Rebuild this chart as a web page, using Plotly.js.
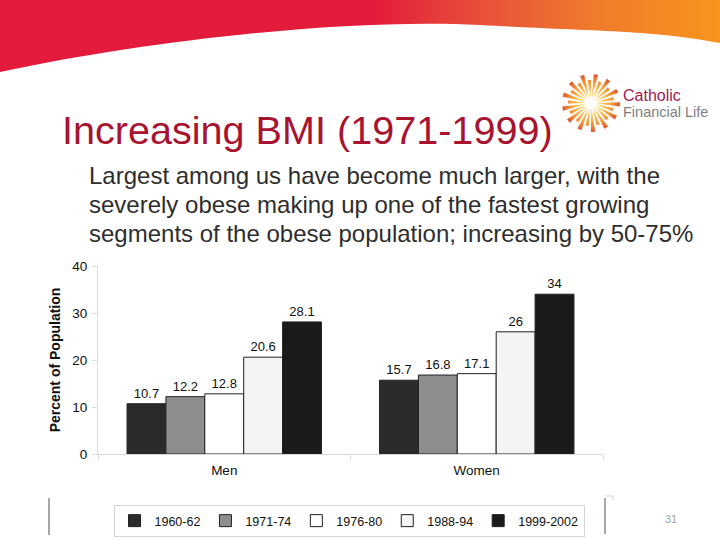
<!DOCTYPE html>
<html>
<head>
<meta charset="utf-8">
<script src="https://cdn.plot.ly/plotly-3.0.1.min.js"></script>
<style>
  html, body { margin: 0; padding: 0; background: #ffffff; }
  #chart { width: 720px; height: 540px; }
</style>
</head>
<body>
<div id="chart"></div>
<script>
// ---- data ----
var categories = ['Men', 'Women'];
var seriesNames = ['1960-62', '1971-74', '1976-80', '1988-94', '1999-2002'];
var values1960 = [10.7, 15.7];
var values1971 = [12.2, 16.8];
var values1976 = [12.8, 17.1];
var values1988 = [20.6, 26];
var values1999 = [28.1, 34];
var yTickValues = [0, 10, 20, 30, 40];

var titleText = 'Increasing BMI (1971-1999)';
var subtitleLines = [
  'Largest among us have become much larger, with the',
  'severely obese making up one of the fastest growing',
  'segments of the obese population; increasing by 50-75%'
];

// ---- styles ----
var FONT = 'Arial, "Liberation Sans", sans-serif';
var seriesFill = ['#2b2b2b', '#8e8e8e', '#ffffff', '#f4f4f4', '#1a1a1a'];
var allValues = [values1960, values1971, values1976, values1988, values1999];

// plot area in pixels (for placing decorations in paper coordinates)
var L = 98, R = 603, T = 266, B = 454;
function px(x) { return (x - L) / (R - L); }
function py(y) { return (B - y) / (B - T); }

var traces = seriesNames.map(function (name, i) {
  return {
    type: 'bar',
    name: name,
    x: categories,
    y: allValues[i],
    text: allValues[i].map(String),
    textposition: 'outside',
    texttemplate: '%{text}',
    textfont: { family: FONT, size: 13, color: '#111111' },
    constraintext: 'none',
    cliponaxis: false,
    marker: { color: seriesFill[i], line: { color: '#222222', width: 1 } },
    hoverinfo: 'skip'
  };
});

// header band SVG (decoration)
var headerSvg =
  '<svg xmlns="http://www.w3.org/2000/svg" width="720" height="75" viewBox="0 0 720 75" preserveAspectRatio="none">' +
  '<defs><linearGradient id="g" x1="0" y1="0" x2="1" y2="0">' +
  '<stop offset="0" stop-color="#e31a3c"/>' +
  '<stop offset="0.52" stop-color="#e31c3b"/>' +
  '<stop offset="0.67" stop-color="#e8503a"/>' +
  '<stop offset="0.82" stop-color="#ef7a2c"/>' +
  '<stop offset="1" stop-color="#f7951d"/>' +
  '</linearGradient></defs>' +
  '<path d="M0,0 H720 V43 C650,30 610,32 480,25 C350,18 150,40 0,72 Z" fill="url(#g)"/>' +
  '</svg>';

// sunburst logo SVG (decoration)
function sunSvg() {
  var s = '<svg xmlns="http://www.w3.org/2000/svg" width="60" height="60" viewBox="0 0 60 60">' +
    '<defs><radialGradient id="r" cx="30" cy="30" r="30" gradientUnits="userSpaceOnUse">' +
    '<stop offset="0" stop-color="#fff6d2"/>' +
    '<stop offset="0.35" stop-color="#fbd066"/>' +
    '<stop offset="0.7" stop-color="#f29a3a"/>' +
    '<stop offset="1" stop-color="#dd4a2a"/>' +
    '</radialGradient></defs><g fill="url(#r)">';
  var n = 26;
  for (var k = 0; k < n; k++) {
    var a = (k / n) * 2 * Math.PI + 0.05;
    var r0 = 6, r1 = (k % 2 === 0) ? 29 : 23;
    var h0 = 0.03, h1 = 0.075;
    var pts = [
      [30 + r0 * Math.cos(a - h0), 30 + r0 * Math.sin(a - h0)],
      [30 + r1 * Math.cos(a - h1), 30 + r1 * Math.sin(a - h1)],
      [30 + r1 * Math.cos(a + h1), 30 + r1 * Math.sin(a + h1)],
      [30 + r0 * Math.cos(a + h0), 30 + r0 * Math.sin(a + h0)]
    ];
    s += '<polygon points="' + pts.map(function (p) { return p[0].toFixed(2) + ',' + p[1].toFixed(2); }).join(' ') + '"/>';
  }
  s += '</g></svg>';
  return s;
}
function svgUri(s) { return 'data:image/svg+xml;charset=utf-8,' + encodeURIComponent(s); }

var annotations = [
  {
    text: titleText, xref: 'paper', yref: 'paper', x: px(60), y: py(130),
    xanchor: 'left', yanchor: 'middle', showarrow: false,
    font: { family: FONT, size: 39.6, color: '#a8132f' }
  },
  {
    text: 'Catholic', xref: 'paper', yref: 'paper', x: px(621), y: py(95),
    xanchor: 'left', yanchor: 'middle', showarrow: false,
    font: { family: FONT, size: 16, color: '#a3194f' }
  },
  {
    text: 'Financial Life', xref: 'paper', yref: 'paper', x: px(621), y: py(112),
    xanchor: 'left', yanchor: 'middle', showarrow: false,
    font: { family: FONT, size: 14.5, color: '#7f7f7f' }
  },
  {
    text: '31', xref: 'paper', yref: 'paper', x: px(671), y: py(519),
    xanchor: 'center', yanchor: 'middle', showarrow: false,
    font: { family: FONT, size: 11, color: '#a0a0a0' }
  }
];
var subY = [175, 204, 233];
subtitleLines.forEach(function (line, i) {
  annotations.push({
    text: line, xref: 'paper', yref: 'paper', x: px(87), y: py(subY[i]),
    xanchor: 'left', yanchor: 'middle', showarrow: false,
    font: { family: FONT, size: 24, color: '#2e2e2e' }
  });
});

var shapes = [
  { type: 'line', xref: 'paper', yref: 'paper', x0: px(49), x1: px(49), y0: py(498), y1: py(535),
    line: { color: '#a8a8a8', width: 2 } },
  { type: 'line', xref: 'paper', yref: 'paper', x0: px(605), x1: px(605), y0: py(498), y1: py(534),
    line: { color: '#a8a8a8', width: 2 } },
  { type: 'line', xref: 'paper', yref: 'paper', x0: px(605), x1: px(613), y0: py(496), y1: py(496),
    line: { color: '#d0d0d0', width: 1 } },
  { type: 'line', xref: 'paper', yref: 'paper', x0: px(613), x1: px(613), y0: py(496), y1: py(500),
    line: { color: '#d0d0d0', width: 1 } }
];

var layout = {
  width: 720,
  height: 540,
  margin: { l: L, r: 720 - R, t: T, b: 540 - B, pad: 0, autoexpand: false },
  paper_bgcolor: '#ffffff',
  plot_bgcolor: '#ffffff',
  font: { family: FONT, color: '#111111' },
  barmode: 'group',
  bargap: 0.23,
  bargroupgap: 0,
  showlegend: true,
  legend: {
    orientation: 'h',
    xref: 'container', yref: 'container',
    x: 349 / 720, xanchor: 'center',
    y: 1 - 505 / 540, yanchor: 'top',
    bordercolor: '#d4d4d4', borderwidth: 1,
    bgcolor: '#ffffff',
    font: { family: FONT, size: 12.5, color: '#111111' },
    traceorder: 'normal',
    itemclick: false, itemdoubleclick: false
  },
  xaxis: {
    type: 'category',
    automargin: false,
    showgrid: false,
    zeroline: false,
    showline: true, linecolor: '#d9d9d9', linewidth: 1,
    ticks: 'outside', tickson: 'boundaries', ticklen: 5, tickcolor: '#d9d9d9',
    tickfont: { family: FONT, size: 13.5, color: '#111111' },
    ticklabelstandoff: 4
  },
  yaxis: {
    range: [0, 40],
    automargin: false,
    tickvals: yTickValues,
    showgrid: false,
    zeroline: false,
    showline: true, linecolor: '#dcdcdc', linewidth: 1,
    ticks: 'outside', ticklen: 5, tickcolor: '#dcdcdc',
    tickfont: { family: FONT, size: 13.5, color: '#111111' },
    ticklabelstandoff: 2,
    title: { text: 'Percent of Population', standoff: 8,
      font: { family: FONT, size: 14, color: '#111111', weight: 'bold' } }
  },
  annotations: annotations,
  shapes: shapes,
  images: [
    { source: svgUri(headerSvg), xref: 'paper', yref: 'paper',
      x: px(0), y: py(0), sizex: 720 / (R - L), sizey: 75 / (B - T),
      xanchor: 'left', yanchor: 'top', sizing: 'stretch', layer: 'above' },
    { source: svgUri(sunSvg()), xref: 'paper', yref: 'paper',
      x: px(561), y: py(73), sizex: 60 / (R - L), sizey: 60 / (B - T),
      xanchor: 'left', yanchor: 'top', sizing: 'stretch', layer: 'above' }
  ]
};

Plotly.newPlot('chart', traces, layout, { staticPlot: true, displayModeBar: false });
</script>
</body>
</html>
